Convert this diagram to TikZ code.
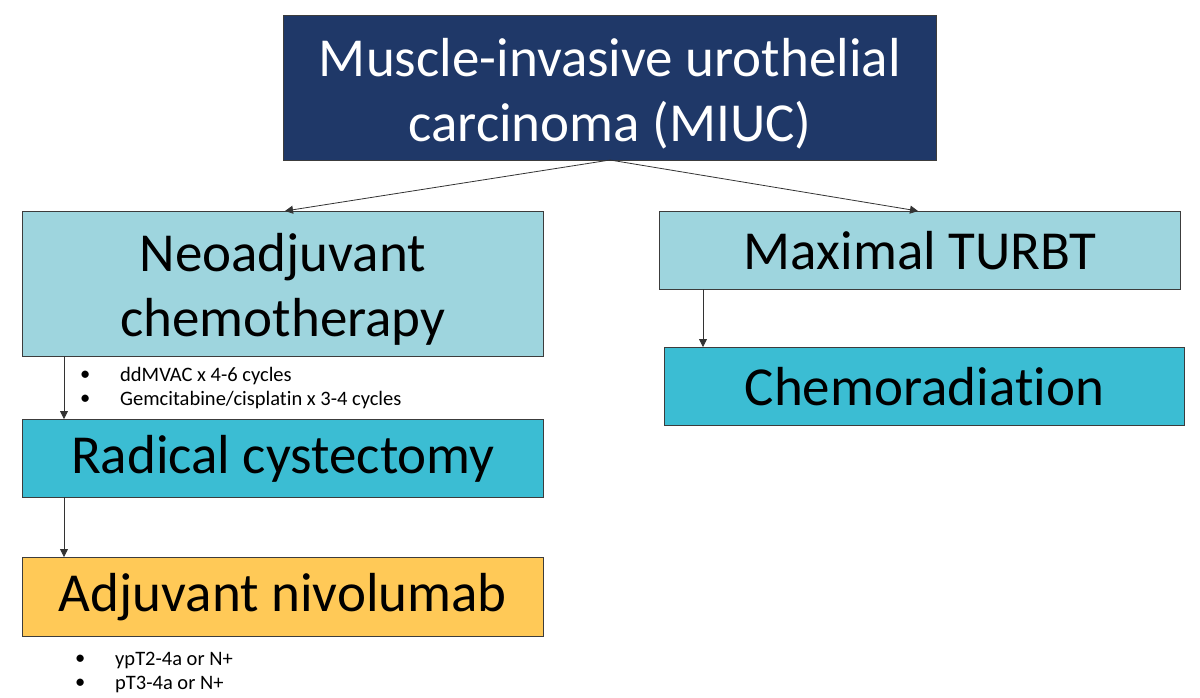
\documentclass[tikz,border=0pt]{standalone}
\usepackage{fontspec}
\setmainfont{Carlito}[Ligatures=NoCommon]
\usetikzlibrary{arrows.meta}
\definecolor{navy}{RGB}{31,56,104}
\definecolor{lightblue}{RGB}{158,213,222}
\definecolor{cyanbox}{RGB}{59,189,211}
\definecolor{amber}{RGB}{255,201,87}
\definecolor{edge}{RGB}{60,60,60}
\newcommand{\topstrut}{\rule{0pt}{49pt}}
\tikzset{
  box/.style={draw=edge, line width=0.8pt, anchor=north west, inner sep=0pt, align=center, font=\fontsize{55}{65}\selectfont},
  conn/.style={-{Triangle[length=8pt,width=8pt]}, line width=0.8pt, draw=black!80},
  bul/.style={anchor=west, inner sep=0pt, font=\fontsize{20.5}{24}\selectfont}
}
\begin{document}
\begin{tikzpicture}[x=1pt,y=-1pt]
\useasboundingbox (0,0) rectangle (1200,697);
\node[box, fill=navy, text=white, minimum width=653pt, minimum height=145pt] (top) at (283,15) {\topstrut Muscle-invasive urothelial\\carcinoma (MIUC)};
\node[box, fill=lightblue, minimum width=521pt, minimum height=145pt] (neo) at (22,211) {\topstrut Neoadjuvant\\chemotherapy};
\node[box, fill=lightblue, minimum width=521pt, minimum height=78pt] (turbt) at (659,211) {Maximal TURBT};
\node[box, fill=cyanbox, minimum width=520pt, minimum height=78pt] (chemo) at (664,347) {Chemoradiation};
\node[box, fill=cyanbox, minimum width=521pt, minimum height=78pt] (rc) at (22,419) {Radical cystectomy};
\node[box, fill=amber, minimum width=521pt, minimum height=79pt] (nivo) at (22,557) {Adjuvant nivolumab};

\coordinate (ts) at (610,160);
\draw[conn] (ts) -- (285,211);
\draw[conn] (ts) -- (918,211);
\draw[conn] (64,356) -- (64,419);
\draw[conn] (64,497) -- (64,557);
\draw[conn] (703,289) -- (703,347);

\node[bul] (b1d) at (80,376) {•};
\node[bul] (b1) at (120,376) {ddMVAC x 4-6 cycles};
\node[bul] (b2d) at (80,400) {•};
\node[bul] (b2) at (120,400) {Gemcitabine/cisplatin x 3-4 cycles};
\node[bul] (b3d) at (75,660) {•};
\node[bul] (b3) at (115,660) {ypT2-4a or N+};
\node[bul] (b4d) at (75,684) {•};
\node[bul] (b4) at (115,684) {pT3-4a or N+};
\end{tikzpicture}
\end{document}
